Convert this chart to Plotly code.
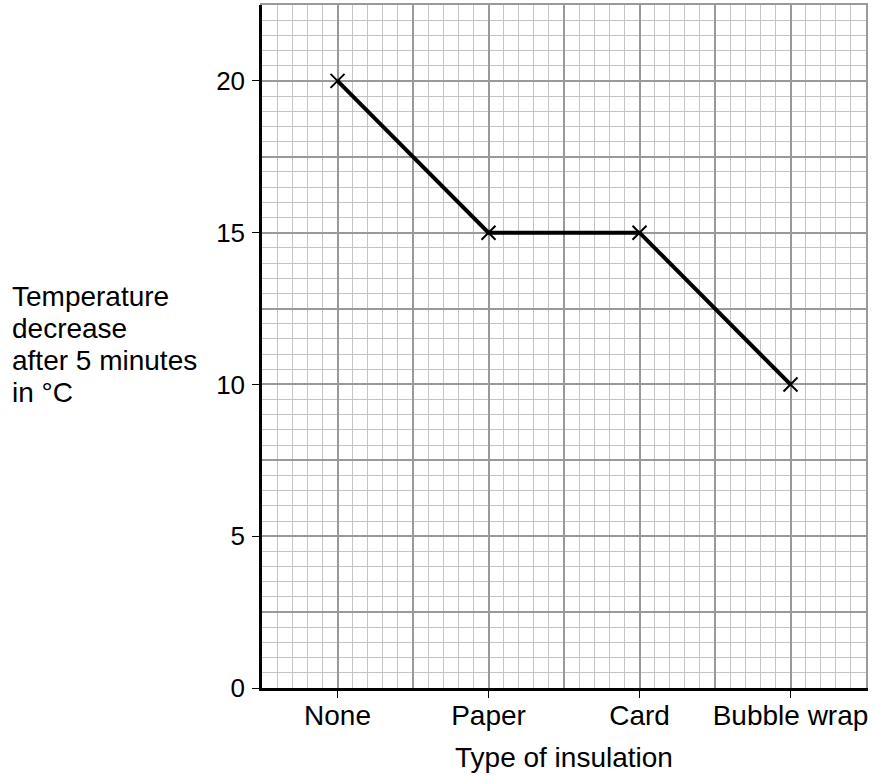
import plotly.graph_objects as go

categories = ["None", "Paper", "Card", "Bubble wrap"]
temp_decrease = [20, 15, 15, 10]
y_tick_values = [0, 5, 10, 15, 20]
y_title_lines = ["Temperature", "decrease", "after 5 minutes", "in °C"]
x_title = "Type of insulation"

x_pos = list(range(len(categories)))
x_range = [-0.5, len(categories) - 0.5]
y_range = [0, 22.5]

FONT = "Liberation Sans, Arial, sans-serif"
MAJOR = "#999999"
MINOR = "#c4c4c4"

# plot area in pixels: x 262..866, y 5..688
PL, PR, PT, PB = 262, 866, 5, 688
PW, PH = PR - PL, PB - PT

fig = go.Figure()
# data on the primary (grid) axes
fig.add_trace(go.Scatter(
    x=x_pos, y=temp_decrease, mode="lines+markers",
    line=dict(color="black", width=4),
    marker=dict(symbol="x-thin", size=14, color="black",
                line=dict(color="black", width=2)),
    xaxis="x", yaxis="y", showlegend=False, hoverinfo="skip",
))
# empty trace so the overlay (tick/label) axes are drawn
fig.add_trace(go.Scatter(x=[], y=[], xaxis="x2", yaxis="y2",
                         showlegend=False, hoverinfo="skip"))

fig.update_layout(
    template="none",
    width=875, height=776,
    margin=dict(l=PL, r=875 - PR, t=PT, b=776 - PB, autoexpand=False),
    paper_bgcolor="white", plot_bgcolor="white",
    font=dict(family=FONT, size=28, color="black"),
    xaxis=dict(
        range=x_range, tickmode="linear", tick0=-0.5, dtick=0.5,
        showgrid=True, gridcolor=MAJOR, gridwidth=2,
        showticklabels=False, ticks="", zeroline=False,
        minor=dict(tick0=-0.5, dtick=0.1, showgrid=True,
                   gridcolor=MINOR, gridwidth=1, ticks=""),
        showline=True, mirror=True, linecolor=MAJOR, linewidth=2,
        fixedrange=True, automargin=False,
    ),
    yaxis=dict(
        range=y_range, tickmode="linear", tick0=0, dtick=2.5,
        showgrid=True, gridcolor=MAJOR, gridwidth=2,
        showticklabels=False, ticks="", zeroline=False,
        minor=dict(tick0=0, dtick=0.5, showgrid=True,
                   gridcolor=MINOR, gridwidth=1, ticks=""),
        showline=True, mirror=True, linecolor=MAJOR, linewidth=2,
        fixedrange=True, automargin=False,
    ),
    xaxis2=dict(
        overlaying="x", anchor="y2", side="bottom", range=x_range,
        tickmode="array", tickvals=x_pos, ticktext=categories,
        ticks="outside", ticklen=7, tickwidth=1, tickcolor="black",
        showgrid=False, zeroline=False,
        showline=True, linecolor="black", linewidth=2.5,
        tickfont=dict(size=28, color="black", family=FONT),
        ticklabelstandoff=-6,
        fixedrange=True, automargin=False,
    ),
    yaxis2=dict(
        overlaying="y", anchor="x2", side="left", range=y_range,
        tickmode="array", tickvals=y_tick_values,
        ticks="outside", ticklen=7, tickwidth=1, tickcolor="black",
        showgrid=False, zeroline=False,
        showline=True, linecolor="black", linewidth=2.5,
        tickfont=dict(size=26, color="black", family=FONT),
        ticklabelstandoff=2,
        fixedrange=True, automargin=False,
    ),
)

annotations = []
baselines = [306, 338, 370, 402]
for line, base in zip(y_title_lines, baselines):
    annotations.append(dict(
        text=line, xref="paper", yref="paper",
        x=(10 - PL) / PW, y=(PB - (base - 10)) / PH,
        xanchor="left", yanchor="middle", align="left", showarrow=False,
        font=dict(size=28, color="black", family=FONT)))
annotations.append(dict(
    text=x_title, xref="paper", yref="paper",
    x=0.5, y=(PB - 757) / PH, xanchor="center", yanchor="middle",
    showarrow=False, font=dict(size=28, color="black", family=FONT)))
fig.update_layout(annotations=annotations)

fig.write_html("out.html", config={"displayModeBar": False},
               post_script="document.body.style.margin='0px';")
